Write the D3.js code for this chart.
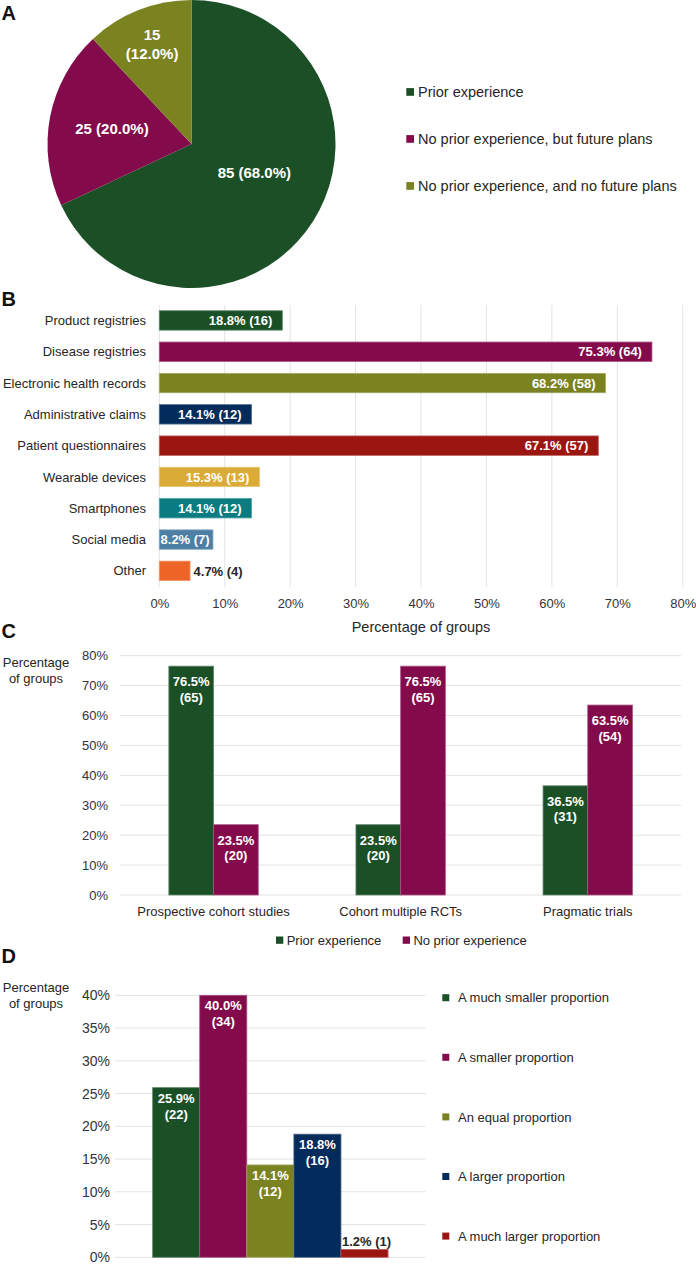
<!DOCTYPE html>
<html><head><meta charset="utf-8">
<script src="https://cdn.jsdelivr.net/npm/d3@7"></script>
<style>body{margin:0;background:#fff}svg{display:block;font-family:"Liberation Sans",Arial,sans-serif}</style>
</head><body><svg id="c" width="696" height="1265"></svg>
<script>
// ---------- DATA ----------
// Panel A
const pieCategories = ["Prior experience", "No prior experience, but future plans", "No prior experience, and no future plans"];
const pieCounts = [85, 25, 15];
const piePercents = [68.0, 20.0, 12.0];
// Panel B
const sourceCategories = ["Product registries", "Disease registries", "Electronic health records", "Administrative claims", "Patient questionnaires", "Wearable devices", "Smartphones", "Social media", "Other"];
const sourcePercents = [18.8, 75.3, 68.2, 14.1, 67.1, 15.3, 14.1, 8.2, 4.7];
const sourceCounts = [16, 64, 58, 12, 57, 13, 12, 7, 4];
const sourceTicks = [0, 10, 20, 30, 40, 50, 60, 70, 80];
// Panel C
const designCategories = ["Prospective cohort studies", "Cohort multiple RCTs", "Pragmatic trials"];
const designSeries = ["Prior experience", "No prior experience"];
const designPriorPct = [76.5, 23.5, 36.5];
const designPriorN = [65, 20, 31];
const designNoPriorPct = [23.5, 76.5, 63.5];
const designNoPriorN = [20, 65, 54];
const designTicks = [0, 10, 20, 30, 40, 50, 60, 70, 80];
// Panel D
const proportionCategories = ["A much smaller proportion", "A smaller proportion", "An equal proportion", "A larger proportion", "A much larger proportion"];
const proportionPercents = [25.9, 40.0, 14.1, 18.8, 1.2];
const proportionCounts = [22, 34, 12, 16, 1];
const proportionTicks = [0, 5, 10, 15, 20, 25, 30, 35, 40];

// ---------- STYLE ----------
const GREEN = "#1b5027", PURPLE = "#830b4c", OLIVE = "#7b8220", NAVY = "#032b5b",
      DRED = "#9b1611", GOLD = "#dbab38", TEAL = "#0b7b82", STEEL = "#4d7ea4", ORANGE = "#ed6526";
const pieColors = [GREEN, PURPLE, OLIVE];
const sourceColors = [GREEN, PURPLE, OLIVE, NAVY, DRED, GOLD, TEAL, STEEL, ORANGE];
const designColors = [GREEN, PURPLE];
const proportionColors = [GREEN, PURPLE, OLIVE, NAVY, DRED];
const GRID = "#e3e3e3", TICK = "#333", LABEL = "#262626";
const edge = c => d3.interpolateRgb(c, "#ffffff")(0.3);

const svg = d3.select("#c");
svg.append("rect").attr("width", 696).attr("height", 1265).attr("fill", "#fff");

function panelLetter(t, y) {
  svg.append("text").attr("x", 1.5).attr("y", y).attr("font-size", 20).attr("font-weight", "bold")
    .attr("fill", "#111").text(t);
}
function styleAxis(g, size, color) {
  g.select(".domain").remove();
  g.selectAll(".tick line").remove();
  g.attr("font-family", null).attr("font-size", null);
  g.selectAll("text").attr("font-size", size).attr("fill", color);
}

// ---------- PANEL A ----------
panelLetter("A", 19.5);
const pieG = svg.append("g").attr("transform", "translate(191.5,144)");
const R = 144;
const pieData = d3.pie().sort(null).value(d => d.n)(pieCounts.map((n, i) => ({ n, p: piePercents[i], i })));
const arc = d3.arc().innerRadius(0).outerRadius(R);
pieG.selectAll("path").data(pieData).join("path")
  .attr("d", arc).attr("fill", d => pieColors[d.data.i]);
const pieLabelLayout = [{ r: 69, da: -8 }, { r: 81, da: 0 }, { r: 107, da: 0 }];
pieData.forEach(d => {
  const L = pieLabelLayout[d.data.i];
  const a = (d.startAngle + d.endAngle) / 2 + L.da * Math.PI / 180;
  const cx = Math.sin(a) * L.r, cy = -Math.cos(a) * L.r;
  const lines = d.data.p < 15 ? [String(d.data.n), `(${d.data.p.toFixed(1)}%)`] : [`${d.data.n} (${d.data.p.toFixed(1)}%)`];
  const lh = 19;
  const t = pieG.append("text").attr("text-anchor", "middle").attr("font-size", 15)
    .attr("font-weight", "bold").attr("fill", "#fff");
  lines.forEach((s, k) => {
    t.append("tspan").attr("x", cx).attr("y", cy + 5.4 + (k - (lines.length - 1) / 2) * lh).text(s);
  });
});
// legend A
const legA = svg.append("g");
pieCategories.forEach((c, i) => {
  const y = 92 + i * 47;
  legA.append("rect").attr("x", 406.3).attr("y", y - 3.9).attr("width", 7.7).attr("height", 7.7).attr("fill", pieColors[i]);
  legA.append("text").attr("x", 418).attr("y", y + 5.2).attr("font-size", 14.5).attr("fill", LABEL).text(c);
});

// ---------- PANEL B ----------
panelLetter("B", 306);
const xB = d3.scaleLinear().domain([0, 80]).range([159.3, 682.7]);
const yB = d3.scaleBand().domain(sourceCategories).range([304.8, 586.5]).paddingInner(0.38).paddingOuter(0.19);
const gB = svg.append("g");
gB.selectAll("line.grid").data(sourceTicks).join("line").attr("class", "grid")
  .attr("x1", d => xB(d)).attr("x2", d => xB(d)).attr("y1", 305).attr("y2", 587)
  .attr("stroke", GRID).attr("stroke-width", 1);
const axB = gB.append("g").attr("transform", "translate(0,587)")
  .call(d3.axisBottom(xB).tickValues(sourceTicks).tickFormat(d => d + "%").tickSize(0).tickPadding(11.8));
styleAxis(axB, 13, TICK);
gB.append("text").attr("x", (xB(0) + xB(80)) / 2).attr("y", 632).attr("text-anchor", "middle")
  .attr("font-size", 14.5).attr("fill", LABEL).text("Percentage of groups");
sourceCategories.forEach((c, i) => {
  gB.append("text").attr("x", 146).attr("y", yB(c) + yB.bandwidth() / 2).attr("dy", "0.35em")
    .attr("text-anchor", "end").attr("font-size", 13).attr("fill", LABEL).text(c);
});
gB.selectAll("rect.bar").data(sourceCategories).join("rect").attr("class", "bar")
  .attr("x", xB(0)).attr("y", d => yB(d)).attr("width", (d, i) => xB(sourcePercents[i]) - xB(0))
  .attr("height", yB.bandwidth()).attr("fill", (d, i) => sourceColors[i])
  .attr("stroke", (d, i) => edge(sourceColors[i])).attr("stroke-width", 0.8);
sourceCategories.forEach((c, i) => {
  const x0 = xB(0), x1 = xB(sourcePercents[i]);
  const t = gB.append("text").attr("y", yB(c) + yB.bandwidth() / 2).attr("dy", "0.36em")
    .attr("font-size", 13).attr("font-weight", "bold").text(`${sourcePercents[i].toFixed(1)}% (${sourceCounts[i]})`);
  const w = t.node().getComputedTextLength();
  const bw = x1 - x0;
  if (w + 4 > bw) {
    t.attr("x", x1 + 3.5).attr("text-anchor", "start").attr("fill", LABEL);
  } else if (w + 20 > bw) {
    t.attr("x", (x0 + x1) / 2 - 1).attr("text-anchor", "middle").attr("fill", "#fff");
  } else {
    t.attr("x", x1 - 10).attr("text-anchor", "end").attr("fill", "#fff");
  }
});

// ---------- PANEL C ----------
panelLetter("C", 638);
const yC = d3.scaleLinear().domain([0, 80]).range([895, 655.7]);
const xC = d3.scaleBand().domain(designCategories).range([120, 681.3]);
const xC1 = d3.scaleBand().domain(designSeries).range([0, xC.bandwidth()]).paddingOuter(1.093);
const gC = svg.append("g");
gC.selectAll("line.grid").data(designTicks).join("line").attr("class", "grid")
  .attr("x1", 120).attr("x2", 681.3).attr("y1", d => yC(d)).attr("y2", d => yC(d))
  .attr("stroke", GRID).attr("stroke-width", 1);
const axCy = gC.append("g").attr("transform", "translate(120,0)")
  .call(d3.axisLeft(yC).tickValues(designTicks).tickFormat(d => d + "%").tickSize(0).tickPadding(12));
styleAxis(axCy, 13, TICK);
const axCx = gC.append("g").attr("transform", "translate(0,895)")
  .call(d3.axisBottom(xC).tickSize(0).tickPadding(11.3));
styleAxis(axCx, 13, LABEL);
const titleC = gC.append("text").attr("text-anchor", "middle").attr("font-size", 13).attr("fill", LABEL);
titleC.append("tspan").attr("x", 36).attr("y", 667).text("Percentage");
titleC.append("tspan").attr("x", 36).attr("y", 682.5).text("of groups");
const designRows = [];
designCategories.forEach((c, i) => {
  designRows.push({ c, s: 0, p: designPriorPct[i], n: designPriorN[i] });
  designRows.push({ c, s: 1, p: designNoPriorPct[i], n: designNoPriorN[i] });
});
gC.selectAll("rect.bar").data(designRows).join("rect").attr("class", "bar")
  .attr("x", d => xC(d.c) + xC1(designSeries[d.s])).attr("width", xC1.bandwidth())
  .attr("y", d => yC(d.p)).attr("height", d => yC(0) - yC(d.p))
  .attr("fill", d => designColors[d.s]).attr("stroke", d => edge(designColors[d.s])).attr("stroke-width", 0.8);
designRows.forEach(d => {
  const cx = xC(d.c) + xC1(designSeries[d.s]) + xC1.bandwidth() / 2;
  const t = gC.append("text").attr("text-anchor", "middle").attr("font-size", 13)
    .attr("font-weight", "bold").attr("fill", "#fff");
  t.append("tspan").attr("x", cx).attr("y", yC(d.p) + 20).text(d.p.toFixed(1) + "%");
  t.append("tspan").attr("x", cx).attr("y", yC(d.p) + 35.6).text(`(${d.n})`);
});
// legend C
const legC = gC.append("g");
const legCx = [276, 402.7];
designSeries.forEach((s, i) => {
  legC.append("rect").attr("x", legCx[i]).attr("y", 936.5).attr("width", 7.3).attr("height", 7.3).attr("fill", designColors[i]);
  legC.append("text").attr("x", legCx[i] + 10.7).attr("y", 944.5).attr("font-size", 13).attr("fill", LABEL).text(s);
});

// ---------- PANEL D ----------
panelLetter("D", 963);
const yD = d3.scaleLinear().domain([0, 40]).range([1257.3, 995.3]);
const xD = d3.scaleBand().domain(["all"]).range([115, 425.7]);
const xD1 = d3.scaleBand().domain(proportionCategories).range([0, xD.bandwidth()]).paddingOuter(0.8);
const gD = svg.append("g");
gD.selectAll("line.grid").data(proportionTicks).join("line").attr("class", "grid")
  .attr("x1", 115).attr("x2", 425.7).attr("y1", d => yD(d)).attr("y2", d => yD(d))
  .attr("stroke", GRID).attr("stroke-width", 1);
const axDy = gD.append("g").attr("transform", "translate(115,0)")
  .call(d3.axisLeft(yD).tickValues(proportionTicks).tickFormat(d => d + "%").tickSize(0).tickPadding(5));
styleAxis(axDy, 14, TICK);
const titleD = gD.append("text").attr("text-anchor", "middle").attr("font-size", 13).attr("fill", LABEL);
titleD.append("tspan").attr("x", 36).attr("y", 992).text("Percentage");
titleD.append("tspan").attr("x", 36).attr("y", 1008).text("of groups");
gD.selectAll("rect.bar").data(proportionCategories).join("rect").attr("class", "bar")
  .attr("x", d => xD("all") + xD1(d)).attr("width", xD1.bandwidth())
  .attr("y", (d, i) => yD(proportionPercents[i])).attr("height", (d, i) => yD(0) - yD(proportionPercents[i]))
  .attr("fill", (d, i) => proportionColors[i]).attr("stroke", (d, i) => edge(proportionColors[i])).attr("stroke-width", 0.8);
proportionCategories.forEach((c, i) => {
  const cx = xD("all") + xD1(c) + xD1.bandwidth() / 2;
  const top = yD(proportionPercents[i]);
  const t = gD.append("text").attr("text-anchor", "middle").attr("font-size", 13).attr("font-weight", "bold");
  if (yD(0) - top < 30) {
    t.attr("x", cx + 2).attr("y", top - 3.5).attr("fill", LABEL)
      .text(`${proportionPercents[i].toFixed(1)}% (${proportionCounts[i]})`);
  } else {
    t.attr("fill", "#fff");
    t.append("tspan").attr("x", cx).attr("y", top + 15).text(proportionPercents[i].toFixed(1) + "%");
    t.append("tspan").attr("x", cx).attr("y", top + 31).text(`(${proportionCounts[i]})`);
  }
});
// legend D
const legD = gD.append("g");
proportionCategories.forEach((c, i) => {
  const y = 997.7 + i * 59.6;
  legD.append("rect").attr("x", 442.3).attr("y", y - 3.5).attr("width", 7).attr("height", 7).attr("fill", proportionColors[i]);
  legD.append("text").attr("x", 458).attr("y", y + 4.6).attr("font-size", 13).attr("fill", LABEL).text(c);
});
</script></body></html>
